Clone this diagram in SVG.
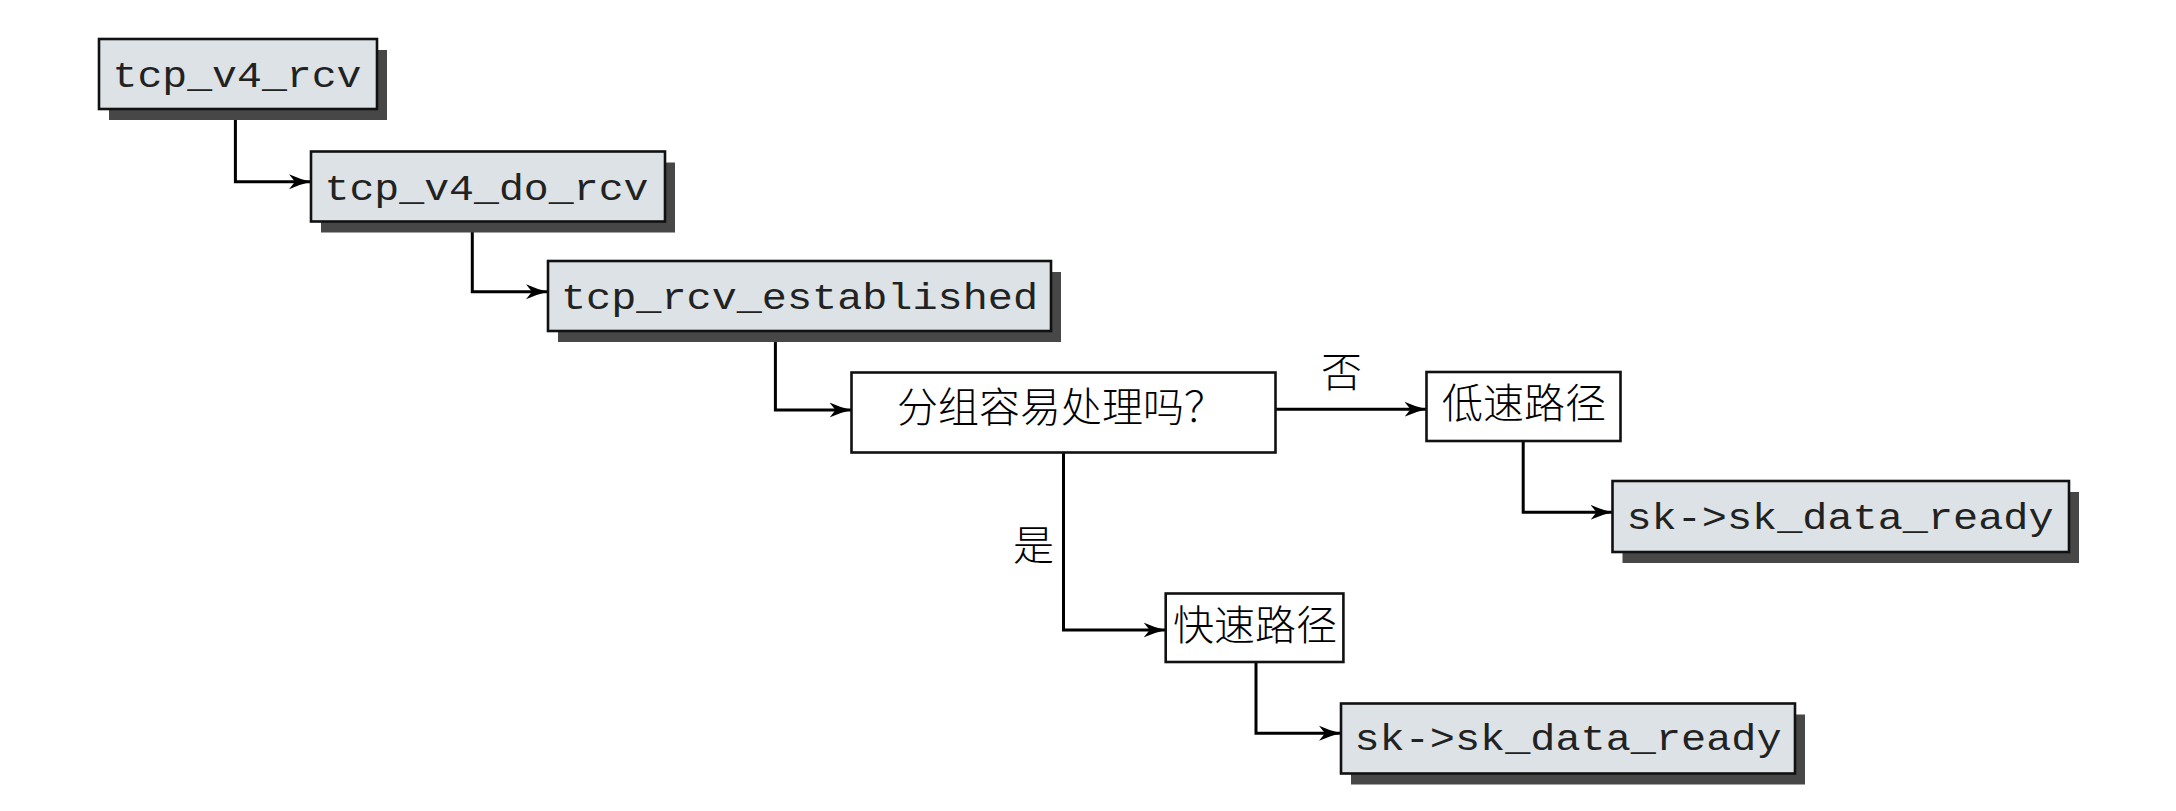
<svg xmlns="http://www.w3.org/2000/svg" width="2176" height="811" viewBox="0 0 2176 811">
<style>
.shadow{fill:#474747;stroke:none}
.fn{fill:#dce2e5;stroke:#111;stroke-width:2.6}
.plain{fill:#fff;stroke:#111;stroke-width:2.6}
.mono{font-family:"Liberation Mono","DejaVu Sans Mono",monospace;font-size:36px;fill:#222;text-anchor:middle}
.cjk{font-family:"Noto Sans CJK SC","Noto Sans CJK JP",sans-serif;font-size:41px;fill:#000;font-weight:300}
.conn{fill:none;stroke:#000;stroke-width:3;marker-end:url(#arr)}
</style>
<defs>
<marker id="arr" markerUnits="userSpaceOnUse" markerWidth="24" markerHeight="18" refX="22" refY="8" orient="auto">
<path d="M0,0.5 Q11,5.5 22,8 Q11,10.5 0,15.5 L6,8 z" fill="#000"/>
</marker>
</defs>
<rect width="2176" height="811" fill="#fff"/>
<g id="connectors">
<path class="conn" d="M235.4,109 V181.7 H311"/>
<path class="conn" d="M472.3,221.5 V291.7 H548"/>
<path class="conn" d="M775.4,331 V410 H851.5"/>
<path class="conn" d="M1275.4,409.3 H1426.5"/>
<path class="conn" d="M1523.2,441 V512.3 H1612.5"/>
<path class="conn" d="M1063.5,452.5 V630 H1165.7"/>
<path class="conn" d="M1256,662 V733.3 H1341"/>
</g>
<g id="tcp_v4_rcv">
<rect class="shadow" x="109" y="50" width="278" height="70"/>
<rect class="fn" x="99" y="39" width="278" height="70"/>
<text class="mono" x="237" y="87" textLength="249" lengthAdjust="spacingAndGlyphs">tcp_v4_rcv</text>
</g>
<g id="tcp_v4_do_rcv">
<rect class="shadow" x="321" y="162.5" width="354" height="70"/>
<rect class="fn" x="311" y="151.5" width="354" height="70"/>
<text class="mono" x="486.5" y="200" textLength="324" lengthAdjust="spacingAndGlyphs">tcp_v4_do_rcv</text>
</g>
<g id="tcp_rcv_established">
<rect class="shadow" x="558" y="272" width="503" height="70"/>
<rect class="fn" x="548" y="261" width="503" height="70"/>
<text class="mono" x="799.5" y="308.5" textLength="477" lengthAdjust="spacingAndGlyphs">tcp_rcv_established</text>
</g>
<g id="decision">
<rect class="plain" x="851.5" y="372.5" width="424" height="80"/>
<text class="cjk" x="897" y="422">分组容易处理吗？</text>
</g>
<g id="label_no">
<text class="cjk" x="1341.5" y="386.5" text-anchor="middle" font-size="39">否</text>
</g>
<g id="slow_path">
<rect class="plain" x="1426.5" y="372" width="194" height="69"/>
<text class="cjk" x="1524" y="418" text-anchor="middle">低速路径</text>
</g>
<g id="sk_data_ready_slow">
<rect class="shadow" x="1622.5" y="492" width="456.5" height="71"/>
<rect class="fn" x="1612.5" y="481" width="456.5" height="71"/>
<text class="mono" x="1840" y="528.5" textLength="427" lengthAdjust="spacingAndGlyphs">sk-&gt;sk_data_ready</text>
</g>
<g id="label_yes">
<text class="cjk" x="1033.5" y="559.5" text-anchor="middle" font-size="39">是</text>
</g>
<g id="fast_path">
<rect class="plain" x="1165.7" y="593.5" width="177.7" height="68.5"/>
<text class="cjk" x="1255" y="640" text-anchor="middle">快速路径</text>
</g>
<g id="sk_data_ready_fast">
<rect class="shadow" x="1351" y="714.5" width="454" height="70"/>
<rect class="fn" x="1341" y="703.5" width="454" height="70"/>
<text class="mono" x="1568" y="750" textLength="427" lengthAdjust="spacingAndGlyphs">sk-&gt;sk_data_ready</text>
</g>
</svg>
